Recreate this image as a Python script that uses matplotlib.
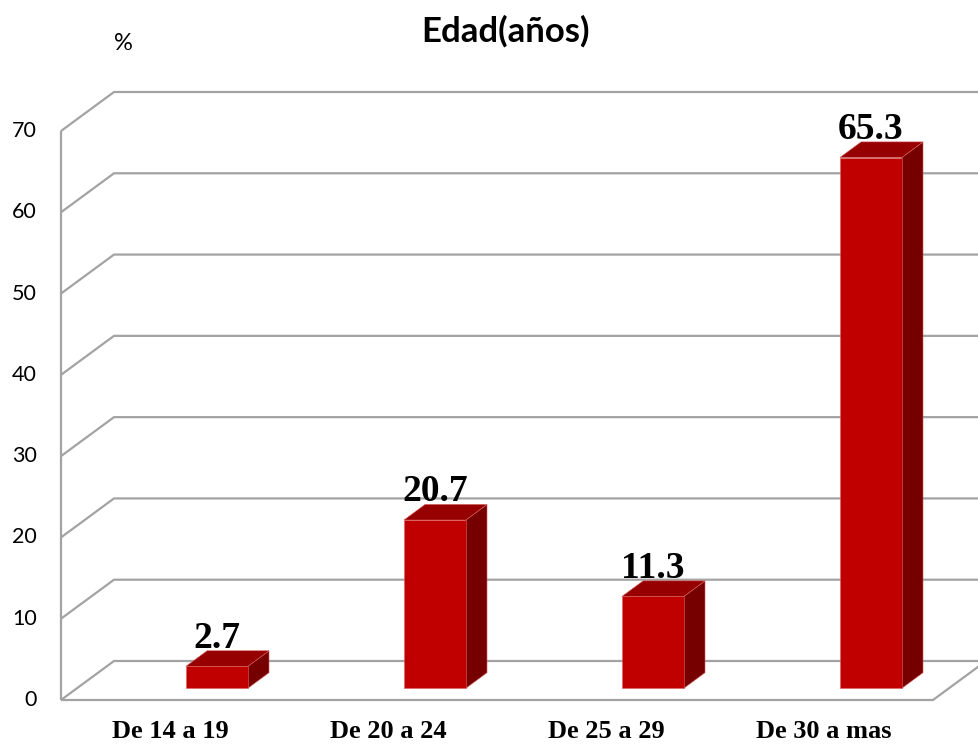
import matplotlib
matplotlib.use("Agg")
import matplotlib.pyplot as plt
from matplotlib.patches import Polygon
from matplotlib.lines import Line2D
from matplotlib.transforms import IdentityTransform
import numpy as np

categories = ["De 14 a 19", "De 20 a 24", "De 25 a 29", "De 30 a mas"]
values = [2.7, 20.7, 11.3, 65.3]
yticks = [0, 10, 20, 30, 40, 50, 60, 70]
title = "Edad(años)"
unit_label = "%"

W, H, DPI = 979, 747, 100
fig = plt.figure(figsize=(W / DPI, H / DPI), dpi=DPI)
fig.patch.set_facecolor("white")

# front plane of the plot area (pixels from top-left)
left_px, right_px, top_px, bottom_px = 61, 933, 131, 700
ax = fig.add_axes([left_px / W, (H - bottom_px) / H,
                   (right_px - left_px) / W, (bottom_px - top_px) / H])
ax.set_xlim(0, len(categories))
ax.set_ylim(0, 70)
ax.axis("off")

# oblique depth vector of the floor/walls (display pixels)
DEPTH = np.array([53.0, 39.0])
fig.canvas.draw()


def proj(x, y, d):
    """Front-plane data point pushed back by depth fraction d."""
    p = ax.transData.transform((x, y))
    return p + DEPTH * d


ident = IdentityTransform()
grid_col = "#a3a3a3"
grid_lw = 1.6


def seg(points, **kw):
    pts = np.array(points)
    fig.add_artist(Line2D(pts[:, 0], pts[:, 1], transform=ident,
                          color=grid_col, lw=grid_lw,
                          solid_capstyle="butt", solid_joinstyle="miter", **kw))


# gridlines: diagonal on left wall, then along the back wall
n = len(categories)
for v in yticks:
    seg([proj(0, v, 0), proj(0, v, 1), proj(n + 0.3, v, 1)], zorder=1)
# left wall edge and floor front edge
seg([proj(0, 0, 0), proj(0, 70, 0)], zorder=1)
seg([proj(0, 0, 0), proj(n, 0, 0), proj(n, 0, 1)], zorder=1)

# 3-D looking bars
d0, d1 = 0.30, 0.70
bar_w = 0.284
front_c, top_c, side_c = "#c00000", "#960000", "#760000"
for i, v in enumerate(values):
    x0 = i + 0.5
    x1 = x0 + bar_w
    front = [proj(x0, 0, d0), proj(x1, 0, d0), proj(x1, v, d0), proj(x0, v, d0)]
    top = [proj(x0, v, d0), proj(x1, v, d0), proj(x1, v, d1), proj(x0, v, d1)]
    side = [proj(x1, 0, d0), proj(x1, 0, d1), proj(x1, v, d1), proj(x1, v, d0)]
    for poly, c in ((side, side_c), (top, top_c), (front, front_c)):
        fig.add_artist(Polygon(poly, closed=True, transform=ident,
                               facecolor=c, edgecolor="#d86060", lw=0.4,
                               zorder=3))
    # value label above the bar
    lx, _ = proj((x0 + x1) / 2, v, d0)
    _, ly = proj(x0, v, d1)
    fig.text(lx / W, (ly + 3) / H, f"{v:.1f}", ha="center", va="baseline",
             fontsize=27, fontweight="bold", family="Liberation Serif",
             zorder=4)

# category labels under the floor
for i, c in enumerate(categories):
    px, py = proj(i + 0.5, 0, 0)
    fig.text(px / W, (H - 731) / H, c, ha="center", va="center",
             fontsize=19, fontweight="bold", family="Liberation Serif")

# value axis labels
for v in yticks:
    px, py = proj(0, v, 0)
    fig.text(37 / W, py / H, str(v), ha="right", va="center",
             fontsize=15.5, family="Lato")

fig.text(123 / W, (H - 43) / H, unit_label, ha="center", va="center",
         fontsize=17, family="Lato")
fig.text(506 / W, (H - 31) / H, title, ha="center", va="center",
         fontsize=25, fontweight="bold", family="Lato")

fig.savefig("out.png", dpi=DPI, facecolor="white")
